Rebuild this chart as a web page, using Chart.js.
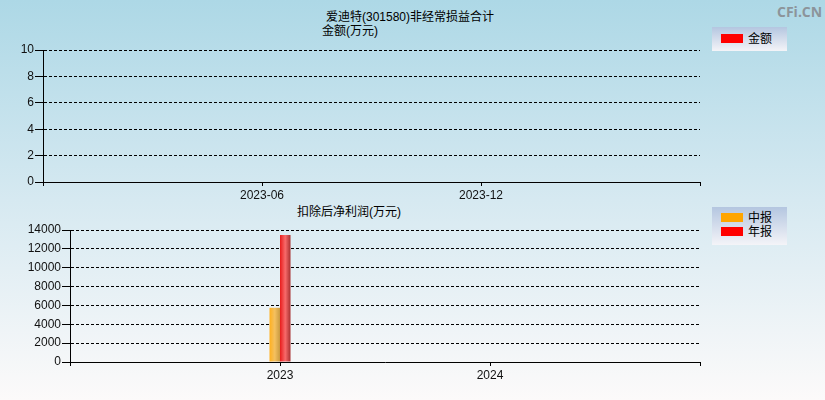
<!DOCTYPE html>
<html>
<head>
<meta charset="utf-8">
<script src="https://cdn.jsdelivr.net/npm/chart.js@4.4.0/dist/chart.umd.min.js"></script>
<style>
  body { margin: 0; width: 825px; height: 400px; overflow: hidden;
         background: linear-gradient(to bottom, #add8e6 0%, #d6e9f1 50%, #fcfafa 100%);
         font-family: "Liberation Sans", "Noto Sans CJK SC", sans-serif; position: relative; }
  canvas { position: absolute; left: 0; }
  .txt { position: absolute; font-size: 12px; color: #000; white-space: nowrap;
         font-family: "Liberation Sans", "Noto Sans CJK SC", sans-serif; line-height: 14px; }
  .legend { position: absolute; left: 712px; width: 75px;
            background: linear-gradient(to bottom, #b4c6e0 0%, #f4f4f8 100%); }
  .sw { position: absolute; left: 9px; width: 22px; height: 9px; }
  .lt { position: absolute; left: 36px; font-size: 12px; line-height: 14px;
        font-family: "Noto Sans CJK SC", sans-serif; }
  #wm { position: absolute; left: 777px; top: 2px; font: bold 14px "Open Sans", "Liberation Sans", sans-serif; color: #8c949a; }
</style>
</head>
<body>
<div class="txt" style="left:0;width:820px;text-align:center;top:10px;">爱迪特(301580)非经常损益合计</div>
<div class="txt" style="left:322px;top:24px;">金额(万元)</div>
<div class="txt" style="left:297px;top:205px;">扣除后净利润(万元)</div>
<div id="wm">CFi.CN</div>

<div class="legend" style="top:27px;height:24px;">
  <div class="sw" style="top:7px;background:#ff0000;"></div>
  <div class="lt" style="top:4px;">金额</div>
</div>
<div class="legend" style="top:207px;height:38px;">
  <div class="sw" style="top:6px;background:#ffa500;"></div>
  <div class="lt" style="top:3px;">中报</div>
  <div class="sw" style="top:20px;background:#ff0000;"></div>
  <div class="lt" style="top:17px;">年报</div>
</div>

<canvas id="topChart" width="825" height="200" style="top:0;"></canvas>
<canvas id="bottomChart" width="825" height="200" style="top:200px;"></canvas>

<script>
// data
const topLabels = ['', '2023-06', '2023-12', ''];
const amountValues = [null, null, null, null];

const bottomLabels = ['', '2023', '2024', ''];
const midValues = [null, 5750, null, null];
const annualValues = [null, 13470, null, null];

const tickFont = { family: 'Liberation Sans', size: 12 };

// cylinder-like shading on the bars
const barShade = {
    id: 'barShade',
    beforeDatasetsDraw(chart) {
        const ctx = chart.ctx;
        chart.data.datasets.forEach((ds, i) => {
            const meta = chart.getDatasetMeta(i);
            meta.data.forEach(el => {
                if (el.x == null || isNaN(el.x) || !ds.shade) return;
                const g = ctx.createLinearGradient(el.x - el.width / 2, 0, el.x + el.width / 2, 0);
                ds.shade.forEach((c, k) => g.addColorStop(k / (ds.shade.length - 1), c));
                el.options = Object.assign({}, el.options, { backgroundColor: g });
            });
        });
    }
};

function makeOptions(yMax, yStep, yWidth, xHeight, padTop) {
    return {
        responsive: false,
        animation: false,
        layout: { padding: { top: padTop, right: 125, left: 0, bottom: 0 } },
        plugins: { legend: { display: false }, tooltip: { enabled: false } },
        scales: {
            x: {
                offset: false,
                grid: { offset: false, drawOnChartArea: false, drawTicks: true, tickLength: 4, color: '#000' },
                border: { color: '#000', width: 1 },
                ticks: { font: tickFont, color: '#111', padding: 2, autoSkip: false, maxRotation: 0 },
                afterFit(s) { s.height = xHeight; }
            },
            y: {
                min: 0,
                max: yMax,
                grid: { color: '#000', tickLength: 8, tickBorderDash: [] },
                border: { color: '#000', width: 1, dash: [3, 2] },
                ticks: { stepSize: yStep, font: tickFont, color: '#111', padding: 1,
                         callback: v => String(v) },
                afterFit(s) { s.width = yWidth; }
            }
        }
    };
}

new Chart(document.getElementById('topChart').getContext('2d'), {
    type: 'bar',
    data: {
        labels: topLabels,
        datasets: [{ label: '金额', data: amountValues, backgroundColor: '#ff0000' }]
    },
    options: makeOptions(10, 2, 43, 18, 50)
});

new Chart(document.getElementById('bottomChart').getContext('2d'), {
    type: 'bar',
    data: {
        labels: bottomLabels,
        datasets: [
            { label: '中报', data: midValues, backgroundColor: '#ffa500',
              shade: ['#ffb020', '#f4c060', '#c89a40'],
              categoryPercentage: 0.1, barPercentage: 1 },
            { label: '年报', data: annualValues, backgroundColor: '#ff0000',
              shade: ['#e81c1c', '#f86a6a', '#a83030'],
              categoryPercentage: 0.1, barPercentage: 1 }
        ]
    },
    options: makeOptions(14000, 2000, 70, 38, 30),
    plugins: [barShade]
});
</script>
</body>
</html>
